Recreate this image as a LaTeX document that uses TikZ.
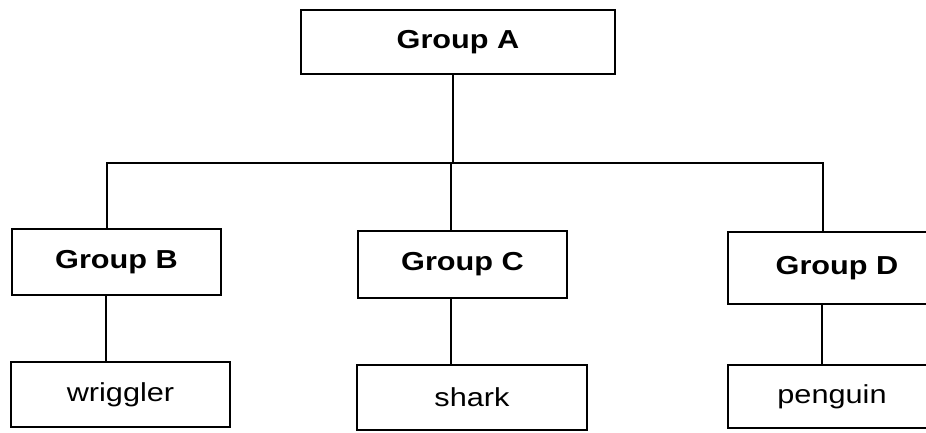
\documentclass[tikz,border=0pt]{standalone}
\usepackage{fontspec}
\newfontfamily\boxfont[FakeStretch=1.18]{Liberation Sans}
\begin{document}
\begin{tikzpicture}[x=1pt,y=-1pt,
  box/.style={draw,line width=1.5pt,rectangle,inner sep=0pt,
    font=\boxfont\fontsize{26}{31}\selectfont},
  groupbox/.style={box,font=\boxfont\bfseries\fontsize{26}{31}\selectfont},
  link/.style={line width=1.5pt}]
\useasboundingbox (0,0) rectangle (926,432);
\clip (0,0) rectangle (926,432);

% group boxes
\node[groupbox,minimum width=314pt,minimum height=64pt] (A) at (458,42) {Group A};
\node[groupbox,minimum width=209pt,minimum height=66pt] (B) at (116.5,262) {Group B};
\node[groupbox,minimum width=209pt,minimum height=67pt] (C) at (462.5,264.5) {Group C};
\node[groupbox,minimum width=218pt,minimum height=72pt] (D) at (837,268) {Group D};

% member boxes
\node[box,minimum width=219pt,minimum height=65pt] (wr) at (120.5,394.5) {wriggler};
\node[box,minimum width=230pt,minimum height=65pt] (sh) at (472,397.5) {shark};
\node[box,minimum width=208pt,minimum height=63pt] (pe) at (832,396.5) {penguin};

% tree connectors
\coordinate (bus) at (453,163);
\draw[link] ([xshift=-5pt]A.south) -- (bus);
\draw[link] ([xshift=-9.5pt]B.north) -- ([xshift=-9.5pt]B.north |- bus)
  -- ([xshift=-14pt]D.north |- bus) -- ([xshift=-14pt]D.north);
\draw[link] ([xshift=-11.5pt]C.north |- bus) -- ([xshift=-11.5pt]C.north);
\draw[link] ([xshift=-10.5pt]B.south) -- ([xshift=-14.5pt]wr.north);
\draw[link] ([xshift=-11.5pt]C.south) -- ([xshift=-21pt]sh.north);
\draw[link] ([xshift=-15pt]D.south) -- ([xshift=-10pt]pe.north);
\end{tikzpicture}
\end{document}
